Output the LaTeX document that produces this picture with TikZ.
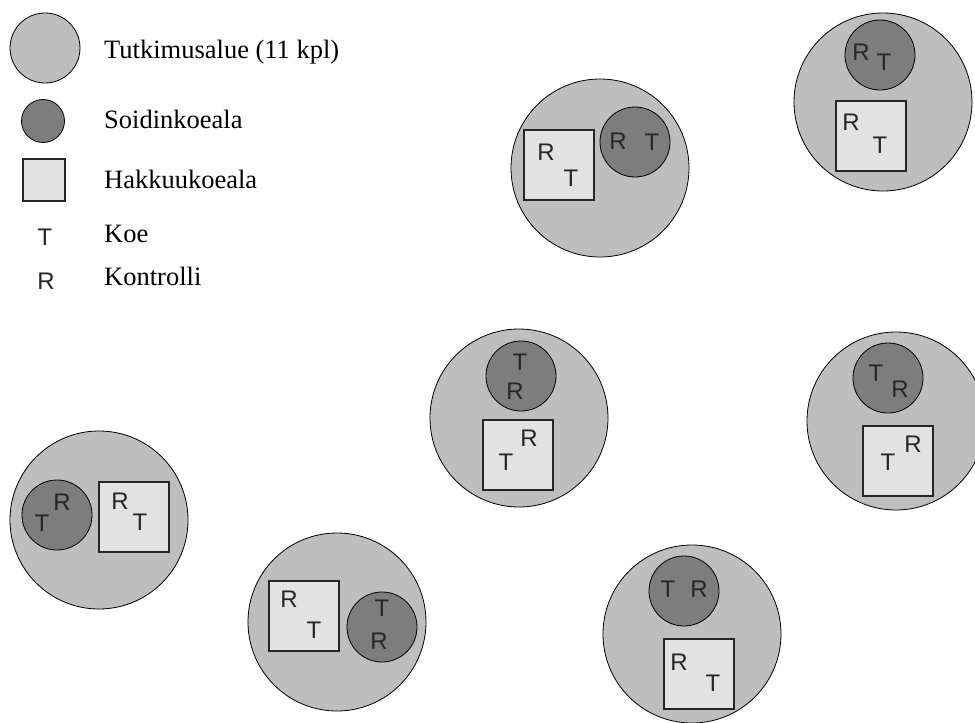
\documentclass[tikz,border=0pt]{standalone}
\usepackage{fontspec}
\setmainfont{Liberation Serif}
\newfontfamily\lettersans{Liberation Sans}
\definecolor{areagray}{RGB}{190,190,190}
\definecolor{plotgray}{RGB}{125,125,125}
\definecolor{cutgray}{RGB}{226,226,226}
\tikzset{
  area/.style={circle, draw=black, line width=0.8pt, fill=areagray, minimum size=178pt, inner sep=0pt},
  leksarea/.style={circle, draw=black, line width=0.8pt, fill=areagray, minimum size=70pt, inner sep=0pt},
  plot/.style={circle, draw=black, line width=0.8pt, fill=plotgray, minimum size=70pt, inner sep=0pt},
  leksplot/.style={circle, draw=black, line width=0.8pt, fill=plotgray, minimum size=43pt, inner sep=0pt},
  cut/.style={rectangle, draw=black!85, line width=1.3pt, fill=cutgray, minimum size=70pt, inner sep=0pt},
  lekscut/.style={rectangle, draw=black!85, line width=1.3pt, fill=cutgray, minimum size=42pt, inner sep=0pt},
  mark letter/.style={font=\lettersans\fontsize{24}{24}\selectfont, text=black!85, inner sep=0pt},
  legend text/.style={font=\fontsize{26.5}{26.5}\selectfont, anchor=base west, inner sep=0pt}
}
\begin{document}
\begin{tikzpicture}[x=1pt,y=-1pt]
\useasboundingbox[fill=white] (0,0) rectangle (975,723);

% legend
\node[leksarea] (la) at (45,48) {};
\node[legend text] (lta) at (104,58) {Tutkimusalue (11 kpl)};
\node[leksplot] (lp) at (43,121) {};
\node[legend text] (ltp) at (104,128) {Soidinkoeala};
\node[lekscut] (lc) at (44,180) {};
\node[legend text] (ltc) at (104,188) {Hakkuukoeala};
\node[mark letter, anchor=base] (lT) at (45,245) {T};
\node[legend text] (ltT) at (104,242) {Koe};
\node[mark letter, anchor=base] (lR) at (46,289) {R};
\node[legend text] (ltR) at (104,285) {Kontrolli};

% area A
\node[area] (aA) at (600,168) {};
\node[cut] (cA) at (559,165) {};
\node[plot] (pA) at (635,142) {};
\node[mark letter] (cAR) at (546,152) {R};
\node[mark letter] (cAT) at (571,178) {T};
\node[mark letter] (pAR) at (618,141) {R};
\node[mark letter] (pAT) at (652,142) {T};

% area B
\node[area] (aB) at (883,102) {};
\node[plot] (pB) at (880,55) {};
\node[cut] (cB) at (871,136) {};
\node[mark letter] (pBR) at (861,52) {R};
\node[mark letter] (pBT) at (884,62) {T};
\node[mark letter] (cBR) at (851,122) {R};
\node[mark letter] (cBT) at (880,145) {T};

% area C
\node[area] (aC) at (519,418) {};
\node[plot] (pC) at (521,376) {};
\node[cut] (cC) at (518,455) {};
\node[mark letter] (pCT) at (520,362) {T};
\node[mark letter] (pCR) at (515,391) {R};
\node[mark letter] (cCR) at (529,438) {R};
\node[mark letter] (cCT) at (506,462) {T};

% area D
\node[area] (aD) at (896,421) {};
\node[plot] (pD) at (888,378) {};
\node[cut] (cD) at (898,461) {};
\node[mark letter] (pDT) at (876,373) {T};
\node[mark letter] (pDR) at (900,389) {R};
\node[mark letter] (cDR) at (913,444) {R};
\node[mark letter] (cDT) at (888,462) {T};

% area E
\node[area] (aE) at (99,520) {};
\node[plot] (pE) at (57,515) {};
\node[cut] (cE) at (134,517) {};
\node[mark letter] (pER) at (62,502) {R};
\node[mark letter] (pET) at (42,523) {T};
\node[mark letter] (cER) at (120,501) {R};
\node[mark letter] (cET) at (140,522) {T};

% area F
\node[area] (aF) at (337,622) {};
\node[cut] (cF) at (304,616) {};
\node[plot] (pF) at (382,627) {};
\node[mark letter] (cFR) at (289,599) {R};
\node[mark letter] (cFT) at (314,630) {T};
\node[mark letter] (pFT) at (382,608) {T};
\node[mark letter] (pFR) at (379,641) {R};

% area G
\node[area] (aG) at (692,634) {};
\node[plot] (pG) at (684,591) {};
\node[cut] (cG) at (699,674) {};
\node[mark letter] (pGT) at (668,589) {T};
\node[mark letter] (pGR) at (699,589) {R};
\node[mark letter] (cGR) at (679,662) {R};
\node[mark letter] (cGT) at (713,683) {T};
\end{tikzpicture}
\end{document}
